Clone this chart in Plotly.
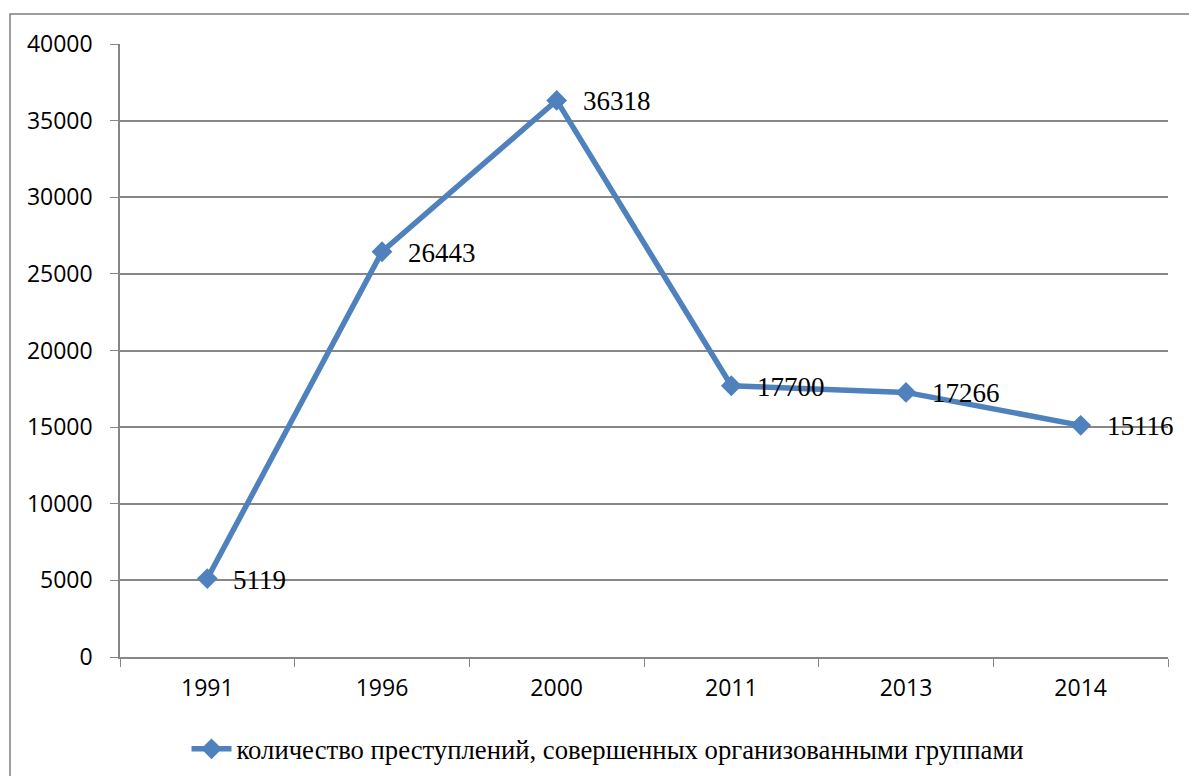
import plotly.graph_objects as go

years = ["1991", "1996", "2000", "2011", "2013", "2014"]
crimes = [5119, 26443, 36318, 17700, 17266, 15116]
series_name = "количество преступлений, совершенных организованными группами"
y_ticks = [0, 5000, 10000, 15000, 20000, 25000, 30000, 35000, 40000]

W, H = 1189, 776
L, T = 120, 44
R = W - 1168
B = H - 657
pw, ph = W - L - R, H - T - B

def px_x(p):
    return (p - L) / pw

def px_y(p):
    return (H - B - p) / ph

blue = "#4F81BD"
grid = "#868686"

fig = go.Figure()
fig.add_trace(go.Scatter(
    x=years, y=crimes, mode="lines+markers",
    name=series_name,
    line=dict(color=blue, width=5.5),
    marker=dict(symbol="diamond", size=16, color=blue),
    cliponaxis=False,
))

annotations = [
    dict(x=i, y=v, xref="x", yref="y", text=str(v), showarrow=False,
         xanchor="left", yanchor="middle", xshift=24, yshift=-1,
         font=dict(family="Liberation Serif", size=27, color="black"))
    for i, v in enumerate(crimes)
]

fig.update_layout(
    width=W, height=H,
    margin=dict(l=L, r=R, t=T, b=B),
    paper_bgcolor="white", plot_bgcolor="white",
    showlegend=True,
    legend=dict(
        orientation="h", xref="paper", yref="container",
        x=px_x(608), y=(H - 749) / H,
        xanchor="center", yanchor="middle",
        font=dict(family="Liberation Serif", size=26.7, color="black"),
        itemwidth=40,
    ),
    annotations=annotations,
    xaxis=dict(
        type="category", range=[-0.5, 5.5],
        showline=True, linecolor=grid, linewidth=1.5,
        ticks="outside", tickson="boundaries", ticklen=8, tickcolor=grid,
        tickfont=dict(family="Open Sans", size=23, color="black"),
        ticklabelstandoff=10,
        showgrid=False, zeroline=False,
    ),
    yaxis=dict(
        range=[0, 40000], tickvals=y_ticks,
        ticktext=[str(v) for v in y_ticks],
        showline=True, linecolor=grid, linewidth=1.5,
        ticks="outside", ticklen=8, tickcolor=grid,
        tickfont=dict(family="Open Sans", size=23, color="black"),
        ticklabelstandoff=13,
        showgrid=True, gridcolor=grid, gridwidth=1.5,
        zeroline=False,
    ),
    shapes=[dict(
        type="rect", xref="paper", yref="paper",
        x0=px_x(10), x1=px_x(1200), y0=px_y(800), y1=px_y(14),
        line=dict(color="#7F7F7F", width=1.5), fillcolor="rgba(0,0,0,0)",
        layer="below",
    )],
)

fig.write_html(
    "out.html",
    config={"displayModeBar": False},
    post_script="document.body.style.margin='0';document.body.style.overflow='hidden';",
)
